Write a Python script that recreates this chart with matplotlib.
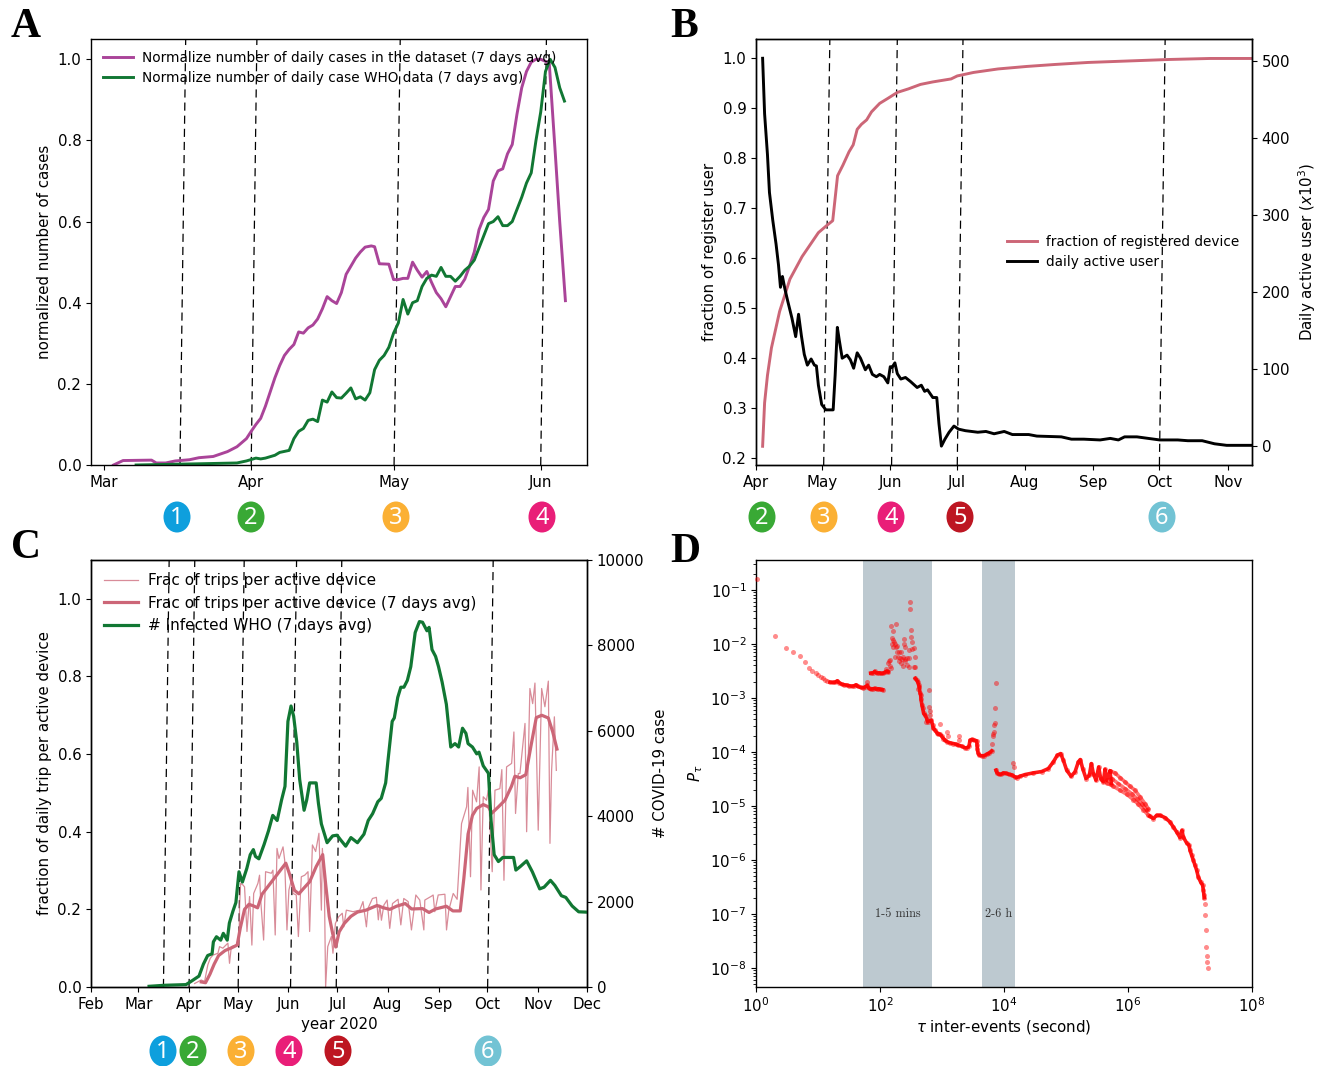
from __future__ import annotations

import matplotlib

matplotlib.use("Agg")
import matplotlib.pyplot as plt
import numpy as np
from matplotlib.patches import Ellipse
from matplotlib.ticker import FixedLocator, LogLocator, NullFormatter, NullLocator

W, H = 1321, 1066

ROSE = "#CC6677"
PURPLE = "#AA4499"
GREEN = "#117733"
BAND = "#BDC9D0"
BADGE_COLORS = {
	"1": "#0E9FDD",
	"2": "#39A935",
	"3": "#FBB034",
	"4": "#E91E78",
	"5": "#BD1622",
	"6": "#72C3D4",
}

# panel A, days since 1 March
A_MONTH_DAYS = [0, 31, 61, 92]
A_MONTHS = ["Mar", "Apr", "May", "Jun"]
A_DATASET_DAYS = [2, 4, 10, 11, 13, 15, 18, 20, 23, 24, 26, 28, 29, 30, 31, 32, 33, 34, 35, 36, 37, 38, 39, 40, 41, 42, 43, 44, 45, 46, 47, 48, 49, 50, 51, 52, 53, 54, 55, 56.3, 57, 58, 60, 61, 62, 63, 64, 65, 66, 67, 68, 69, 70, 71, 72, 73, 74, 75, 76, 77, 78, 79, 80, 81, 82, 83, 84, 85, 86, 87, 88, 89, 90, 91, 92, 93, 93.8, 95, 96, 97.2]
A_DATASET = [0.0, 0.011, 0.012, 0.005, 0.005, 0.01, 0.013, 0.018, 0.021, 0.025, 0.033, 0.045, 0.055, 0.065, 0.083, 0.1, 0.115, 0.145, 0.18, 0.215, 0.245, 0.27, 0.285, 0.297, 0.328, 0.325, 0.338, 0.345, 0.36, 0.385, 0.415, 0.405, 0.398, 0.425, 0.47, 0.49, 0.51, 0.525, 0.537, 0.54, 0.538, 0.496, 0.495, 0.457, 0.457, 0.46, 0.46, 0.5, 0.48, 0.463, 0.477, 0.45, 0.425, 0.41, 0.39, 0.415, 0.44, 0.44, 0.458, 0.49, 0.525, 0.58, 0.61, 0.63, 0.7, 0.725, 0.73, 0.767, 0.79, 0.865, 0.93, 0.97, 0.993, 1.0, 1.0, 0.995, 0.99, 0.78, 0.6, 0.405]
A_WHO_DAYS = [6.75, 20, 28, 30, 32, 33, 34, 36, 37, 39, 40, 41, 42, 43, 44, 45, 46, 47, 48, 49, 50, 51, 52, 53, 54, 55, 56, 57, 58, 59, 60, 61, 62, 63, 64, 65, 66, 67, 68, 69, 70, 71, 72, 73, 74, 75, 76, 77, 78, 79, 80, 81, 82, 83, 84, 85, 86, 87, 88, 89, 90, 91, 92, 93, 94, 95, 96, 97]
A_WHO = [0.0, 0.003, 0.005, 0.01, 0.017, 0.015, 0.017, 0.024, 0.031, 0.036, 0.065, 0.083, 0.09, 0.11, 0.113, 0.107, 0.16, 0.155, 0.18, 0.166, 0.165, 0.177, 0.19, 0.163, 0.168, 0.16, 0.178, 0.235, 0.258, 0.27, 0.29, 0.325, 0.35, 0.408, 0.372, 0.4, 0.405, 0.44, 0.46, 0.468, 0.465, 0.487, 0.465, 0.465, 0.453, 0.465, 0.48, 0.49, 0.505, 0.535, 0.565, 0.595, 0.6, 0.612, 0.59, 0.59, 0.6, 0.63, 0.66, 0.695, 0.72, 0.8, 0.87, 0.97, 1.0, 0.98, 0.93, 0.897]
A_EVENTS_BOTTOM = [16, 31, 61.1, 92]
A_EVENTS_TOP = [17.2, 32.2, 62.4, 93.2]

# panel B, days since 1 April
B_MONTH_DAYS = [0, 30, 61, 91, 122, 153, 183, 214]
B_MONTHS = ["Apr", "May", "Jun", "Jul", "Aug", "Sep", "Oct", "Nov"]
B_REG_DAYS = [3.0, 3.9, 5.2, 7.0, 10.7, 15.4, 20.9, 24.6, 28.3, 32, 34.8, 37, 39.4, 42.2, 44.1, 45.9, 47.8, 50.2, 52.4, 56.1, 59.8, 64.1, 69.1, 74.6, 80.2, 88.5, 91.3, 98.7, 109.8, 122.8, 135.7, 150.6, 169, 187.6, 206, 225]
B_REGISTERED = [0.223, 0.31, 0.365, 0.42, 0.493, 0.558, 0.603, 0.627, 0.651, 0.665, 0.675, 0.765, 0.786, 0.813, 0.827, 0.858, 0.868, 0.877, 0.893, 0.91, 0.92, 0.932, 0.939, 0.948, 0.953, 0.959, 0.965, 0.972, 0.979, 0.984, 0.988, 0.992, 0.995, 0.998, 1.0, 1.0]
B_ACTIVE_DAYS = [3.0, 3.9, 5.2, 6.1, 7.6, 9.1, 10.2, 11.1, 12, 13.1, 14.4, 16.3, 18, 19.3, 20.6, 21.9, 23.3, 25, 26.5, 27.4, 28.3, 29.8, 31.7, 35, 35.9, 36.9, 37.8, 39.1, 41.3, 42.8, 44.3, 45.9, 47.4, 49.6, 51.1, 52.8, 54.6, 56.1, 58, 59.8, 60.9, 61.7, 63, 64.1, 65.7, 67.8, 70, 73.1, 75, 76.5, 77.8, 80.2, 82, 83, 84.1, 85.7, 87.6, 89.8, 91.9, 95, 100.6, 104.3, 108, 112.6, 116.3, 123.7, 127.4, 138.5, 143.1, 148.7, 156.1, 160.7, 164.4, 167.2, 172.8, 183.1, 191.3, 195.9, 202.4, 208, 213.5, 225]
B_ACTIVE = [503, 431, 378, 329, 293, 262, 235, 206, 220, 204, 188, 166, 142, 171, 143, 119, 105, 113, 105, 104, 79, 54, 47, 47, 92, 154, 137, 114, 118, 112, 101, 121, 114, 99, 105, 93, 90, 93, 90, 82, 103, 102, 108, 94, 87, 89, 84, 76, 79, 71, 73, 63, 63, 29, 0, 9, 18, 26, 22, 20, 18, 19, 16, 19, 15, 15, 13, 12, 9, 9, 8, 10, 8, 12, 12, 8, 8, 7, 7, 3, 1, 1]
B_EVENTS_BOTTOM = [30.7, 61.5, 91.3, 183]
B_EVENTS_TOP = [33.5, 64.1, 93.9, 185.6]

# panel C, days since 1 February
C_MONTH_DAYS = [0, 29, 60, 90, 121, 151, 182, 213, 243, 274, 304]
C_MONTHS = ["Feb", "Mar", "Apr", "May", "Jun", "Jul", "Aug", "Sep", "Oct", "Nov", "Dec"]
C_RAW_DAYS = [63.5, 67.6, 69.6, 71.6, 73.1, 74.7, 77.8, 78.8, 80.8, 83.9, 84.9, 86, 89, 90.7, 91.1, 91.7, 93.1, 94.1, 95.6, 97.2, 98.6, 99.7, 102.3, 103.3, 104, 105.8, 107, 110.5, 111.5, 112.9, 114, 115.2, 117.7, 118.7, 120.1, 121.3, 122.8, 123.8, 125.8, 127.1, 128.9, 131, 133, 134, 135.7, 137.7, 139.7, 141.2, 141.8, 143, 143.8, 145.1, 147.3, 148.3, 149.8, 151.8, 154, 154.9, 156.5, 160.6, 164.7, 166.7, 168.8, 169.8, 172.5, 174.9, 176.1, 177, 178, 179.5, 181.5, 183.1, 184.8, 188.2, 189.9, 191.7, 194.4, 196.4, 199.1, 201.5, 204, 204.6, 208.7, 209.7, 210.7, 212.8, 216.9, 217.9, 219.3, 222, 224.4, 227.1, 230.2, 231, 232.6, 233.9, 236.3, 237.9, 239, 240.4, 242.4, 243.5, 245.9, 247.6, 250.6, 251.8, 253.1, 254.7, 257.8, 259.2, 260.2, 261.9, 262.9, 266, 267, 269, 270.7, 272.1, 274.1, 276.2, 278.2, 280.3, 281.3, 282.3, 284, 285.2]
C_RAW = [0.009, 0.018, 0.014, 0.057, 0.074, 0.082, 0.087, 0.104, 0.1, 0.113, 0.061, 0.104, 0.108, 0.108, 0.211, 0.267, 0.263, 0.258, 0.143, 0.233, 0.108, 0.241, 0.267, 0.288, 0.224, 0.121, 0.297, 0.293, 0.301, 0.134, 0.357, 0.331, 0.361, 0.327, 0.147, 0.25, 0.276, 0.241, 0.237, 0.13, 0.284, 0.288, 0.297, 0.143, 0.366, 0.349, 0.396, 0.198, 0.357, 0.276, 0.0, 0.104, 0.13, 0.087, 0.164, 0.181, 0.19, 0.155, 0.198, 0.194, 0.198, 0.22, 0.155, 0.203, 0.228, 0.231, 0.173, 0.211, 0.172, 0.211, 0.224, 0.151, 0.215, 0.226, 0.16, 0.228, 0.22, 0.147, 0.237, 0.224, 0.147, 0.224, 0.234, 0.237, 0.194, 0.237, 0.239, 0.147, 0.198, 0.241, 0.226, 0.421, 0.464, 0.514, 0.284, 0.507, 0.477, 0.567, 0.25, 0.49, 0.481, 0.507, 0.297, 0.507, 0.511, 0.56, 0.275, 0.567, 0.576, 0.657, 0.447, 0.55, 0.55, 0.679, 0.4, 0.769, 0.73, 0.783, 0.404, 0.769, 0.722, 0.788, 0.37, 0.558, 0.696, 0.558]
C_AVG_DAYS = [67.6, 70.2, 72.9, 75.5, 78.2, 82.2, 86.2, 89.6, 91.5, 94.1, 96.8, 99.5, 102.1, 104.8, 107.4, 111.4, 115.4, 119.4, 121.5, 124.7, 127.4, 130.1, 134, 138, 142, 143.9, 146, 148.1, 150, 152.1, 155.3, 159.3, 163.3, 168.6, 175.3, 179.3, 183.2, 187.2, 192.6, 196.5, 203.2, 207.2, 211.2, 217.8, 221.8, 226.3, 228.5, 231.1, 233.8, 236.4, 240.4, 243.6, 245.7, 249.7, 253.7, 257.7, 259.8, 263, 266.5, 269.7, 272.9, 276.3, 280.3, 283, 285.6]
C_AVG = [0.013, 0.011, 0.033, 0.059, 0.081, 0.094, 0.101, 0.108, 0.152, 0.2, 0.213, 0.209, 0.204, 0.239, 0.253, 0.275, 0.297, 0.319, 0.293, 0.249, 0.24, 0.253, 0.271, 0.31, 0.341, 0.262, 0.182, 0.138, 0.103, 0.142, 0.164, 0.182, 0.193, 0.198, 0.21, 0.204, 0.2, 0.208, 0.215, 0.201, 0.202, 0.192, 0.201, 0.208, 0.196, 0.196, 0.279, 0.394, 0.442, 0.46, 0.47, 0.464, 0.448, 0.464, 0.481, 0.517, 0.543, 0.539, 0.547, 0.622, 0.694, 0.7, 0.693, 0.657, 0.613]
C_WHO_DAYS = [35.6, 44.9, 58.2, 60.9, 66.2, 68.9, 71.5, 74.2, 75, 76.9, 79.5, 81.1, 83.5, 84.8, 87, 88.8, 90.7, 92.8, 95.5, 97.6, 99.5, 100.8, 102.9, 106.1, 108.8, 111.4, 114.1, 116.8, 118.9, 120.7, 122.6, 124.2, 126.1, 127.9, 130.6, 132.2, 134, 138, 139.4, 141.2, 144.7, 148.1, 150.8, 152.7, 156.1, 159.3, 163.3, 167.3, 169.9, 172.6, 175.8, 177.9, 180.6, 181.9, 184.6, 185.9, 188, 189.9, 191.8, 193.9, 196, 198.7, 201.3, 203.2, 205.9, 207.2, 209, 211.2, 213, 215.2, 217.8, 220.5, 223.1, 225.3, 227.7, 229.8, 231.1, 233.8, 236.4, 237.8, 240.4, 243.6, 245.2, 247.1, 249.7, 252.4, 259, 260.4, 263, 267, 270.5, 275, 277.7, 281.6, 284.3, 288.3, 291, 294.9, 298.9, 304]
C_WHO = [16, 40, 56, 120, 256, 536, 737, 777, 1057, 1177, 1097, 1257, 1097, 1497, 1777, 1977, 2698, 2458, 2778, 3098, 3218, 3058, 3002, 3339, 3659, 4019, 3899, 4379, 4699, 6221, 6581, 6341, 5740, 4860, 4139, 4379, 4780, 4780, 4299, 3819, 3379, 3539, 3555, 3459, 3298, 3499, 3379, 3579, 3899, 4059, 4339, 4419, 4780, 5260, 6221, 6301, 6781, 7021, 7021, 7181, 7502, 8302, 8558, 8542, 8342, 8422, 7902, 7742, 7502, 7141, 6621, 5620, 5700, 5620, 6060, 5940, 5700, 5620, 5460, 5500, 5180, 5004, 3899, 3098, 2938, 3034, 3034, 2738, 2818, 2954, 2698, 2298, 2338, 2498, 2378, 2138, 2098, 1897, 1761, 1753]
C_EVENTS_BOTTOM = [44.4, 60.1, 90.2, 122.3, 150.3, 243.1]
C_EVENTS_TOP = [47.9, 63.6, 93.9, 126, 153.7, 246.5]

# panel D, log10 of tau and of P, one pair of lists per stretch of the cloud
D_HEAD_X = [0.022, 0.306, 0.484, 0.602, 0.704, 0.785, 0.849, 0.909, 0.962, 1.005, 1.048, 1.086, 1.118, 1.151]
D_HEAD_Y = [-0.802, -1.847, -2.07, -2.144, -2.218, -2.33, -2.441, -2.503, -2.546, -2.577, -2.608, -2.639, -2.67, -2.688]
D_DECAY_X = [1.194, 1.237, 1.28, 1.312, 1.344, 1.382, 1.419, 1.462, 1.505, 1.548, 1.581, 1.613, 1.645, 1.688, 1.731, 1.763, 1.796, 1.817, 1.849, 1.882, 1.914, 1.946, 1.978, 2.011, 2.043]
D_DECAY_Y = [-2.707, -2.713, -2.707, -2.682, -2.719, -2.744, -2.756, -2.762, -2.775, -2.781, -2.775, -2.756, -2.787, -2.806, -2.812, -2.793, -2.769, -2.818, -2.837, -2.83, -2.824, -2.837, -2.83, -2.843, -2.849]
D_SHELF_X = [1.849, 1.892, 1.914, 1.946, 1.989, 2.022, 2.054, 2.081, 2.108, 2.134]
D_SHELF_Y = [-2.54, -2.534, -2.509, -2.54, -2.534, -2.546, -2.54, -2.521, -2.503, -2.515]
D_CLOUD_X = [1.785, 2.091, 2.124, 2.145, 2.167, 2.161, 2.177, 2.183, 2.21, 2.263, 2.194, 2.215, 2.188, 2.226, 2.247, 2.204, 2.253, 2.269, 2.28, 2.306, 2.333, 2.237, 2.296, 2.323, 2.349, 2.376, 2.403, 2.431, 2.462, 2.306, 2.333, 2.366, 2.403, 2.441, 2.473, 2.392, 2.387, 2.403, 2.484, 2.489, 2.495, 2.505, 2.511, 2.473, 2.511, 2.543, 2.559, 2.548, 2.57]
D_CLOUD_Y = [-2.701, -2.459, -2.361, -2.311, -2.299, -2.41, -2.453, -1.674, -1.761, -1.625, -1.884, -1.928, -2.002, -1.959, -2.002, -2.064, -2.064, -2.144, -2.039, -2.156, -2.144, -2.237, -2.249, -2.268, -2.286, -2.249, -2.28, -2.255, -2.268, -2.311, -2.361, -2.41, -2.311, -2.391, -2.422, -1.915, -2.002, -2.064, -1.216, -1.359, -1.748, -1.866, -1.959, -2.113, -2.101, -2.082, -2.237, -2.422, -2.435]
D_DROP_X = [2.57, 2.591, 2.608, 2.624, 2.634, 2.645, 2.656, 2.661, 2.677, 2.688, 2.704, 2.731, 2.753, 2.769, 2.828, 2.849, 2.86, 2.887, 2.914, 2.941, 2.968, 2.995, 3.022, 3.048, 3.086, 3.129, 3.183, 3.226, 3.263, 3.317, 3.371, 3.409, 3.435, 3.452, 3.484, 3.516, 3.559, 3.565, 3.57, 3.581, 3.602, 3.64, 3.683, 3.72, 3.763, 3.801]
D_DROP_Y = [-2.639, -2.67, -2.701, -2.762, -2.793, -2.905, -2.948, -3.028, -3.133, -3.195, -3.288, -3.325, -3.381, -3.443, -3.412, -3.505, -3.566, -3.597, -3.641, -3.672, -3.672, -3.709, -3.752, -3.783, -3.814, -3.832, -3.845, -3.857, -3.876, -3.894, -3.925, -3.919, -3.894, -3.783, -3.77, -3.783, -3.795, -3.876, -3.937, -4.018, -4.061, -4.073, -4.067, -4.043, -4.018, -3.981]
D_SPUR_X = [2.618, 2.79, 2.79, 2.801, 2.812, 2.742, 2.962, 3.086, 3.097, 3.269, 3.28, 3.812, 3.817, 3.828, 3.839, 3.844, 3.855, 3.86, 3.866, 4.151, 4.161]
D_SPUR_Y = [-2.843, -2.855, -3.177, -3.239, -3.325, -3.443, -3.48, -3.634, -3.709, -3.696, -3.783, -3.845, -3.709, -3.659, -3.622, -3.505, -3.461, -3.183, -2.732, -4.197, -4.277]
D_PLATEAU_X = [3.871, 3.887, 3.919, 3.952, 3.989, 4.032, 4.075, 4.124, 4.177, 4.204, 4.258, 4.339, 4.473, 4.608, 4.715, 4.796, 4.86, 4.914, 4.957, 5.011, 5.081, 5.145, 5.199, 5.231, 5.269, 5.323, 5.376, 5.409, 5.441, 5.484, 5.527, 5.559, 5.602, 5.629, 5.656, 5.71, 5.731]
D_PLATEAU_Y = [-4.339, -4.389, -4.414, -4.414, -4.389, -4.395, -4.414, -4.426, -4.463, -4.475, -4.451, -4.42, -4.389, -4.364, -4.309, -4.185, -4.061, -4.031, -4.154, -4.34, -4.451, -4.371, -4.185, -4.142, -4.309, -4.494, -4.433, -4.216, -4.402, -4.525, -4.278, -4.494, -4.556, -4.321, -4.525, -4.352, -4.587]
D_UPPER_X = [5.71, 5.79, 5.871, 5.952, 6.032, 6.113, 6.194, 6.274, 6.328]
D_UPPER_Y = [-4.352, -4.389, -4.476, -4.556, -4.637, -4.711, -4.834, -4.958, -5.051]
D_MIDDLE_X = [5.737, 5.844, 5.952, 6.059, 6.14, 6.22, 6.301]
D_MIDDLE_Y = [-4.494, -4.587, -4.68, -4.773, -4.865, -4.958, -5.082]
D_LOWER_X = [5.656, 5.763, 5.871, 5.978, 6.086, 6.167, 6.247, 6.328]
D_LOWER_Y = [-4.575, -4.637, -4.711, -4.785, -4.884, -4.971, -5.069, -5.175]
D_TAIL_X = [6.355, 6.409, 6.462, 6.516, 6.597, 6.677, 6.731, 6.785, 6.839, 6.871, 6.892, 6.946, 6.984, 7.0, 7.027, 7.054, 7.081, 7.108, 7.134, 7.172, 7.204, 7.215, 7.226, 7.231]
D_TAIL_Y = [-5.193, -5.236, -5.175, -5.175, -5.218, -5.298, -5.391, -5.484, -5.589, -5.453, -5.577, -5.688, -5.731, -5.824, -5.917, -6.01, -6.102, -6.195, -6.319, -6.412, -6.473, -6.566, -6.659, -6.702]
D_END_X = [7.242, 7.247, 7.258, 7.263, 7.274, 7.274, 7.285]
D_END_Y = [-6.826, -7.03, -7.296, -7.624, -7.791, -7.902, -8.001]
D_BANDS = [(53, 690, "1-5 mins"), (4400, 15000, "2-6 h")]


def px_axes(fig, left, right, top, bottom):
	return fig.add_axes([left / W, 1 - bottom / H, (right - left) / W, (bottom - top) / H])


def event_lines(ax, bottoms, tops, ymin, ymax):
	# the guide lines lean a little in the original
	for x0, x1 in zip(bottoms, tops):
		ax.plot([x0, x1], [ymin, ymax], color="black", lw=0.9, ls=(0, (6.5, 4)), zorder=1)


def px_legend(fig, ax, handles, x, y, size, spacing):
	ax.legend(
		handles=handles,
		loc="upper left",
		frameon=False,
		bbox_to_anchor=(x / W, 1 - y / H),
		bbox_transform=fig.transFigure,
		borderaxespad=0,
		borderpad=0,
		labelspacing=spacing,
		handlelength=2.2,
		handletextpad=0.66,
		fontsize=size,
	)


def badges(fig, labels, xs, y):
	for label, x in zip(labels, xs):
		fig.add_artist(Ellipse((x / W, 1 - y / H), 27 / W, 31 / H, transform=fig.transFigure, color=BADGE_COLORS[label], lw=0))
		fig.text(x / W, 1 - (y + 1) / H, label, color="white", family="Noto Sans", fontsize=17, ha="center", va="center")


def panel_a(fig):
	ax = px_axes(fig, 91, 587, 39, 465)
	event_lines(ax, A_EVENTS_BOTTOM, A_EVENTS_TOP, 0, 1.05)
	line1, = ax.plot(A_DATASET_DAYS, A_DATASET, color=PURPLE, lw=2.1, label="Normalize number of daily cases in the dataset (7 days avg)")
	line2, = ax.plot(A_WHO_DAYS, A_WHO, color=GREEN, lw=2.1, label="Normalize number of daily case WHO data (7 days avg)")
	ax.set_xlim(-2.75, 101.75)
	ax.set_ylim(0, 1.05)
	ax.set_xticks(A_MONTH_DAYS, A_MONTHS)
	ax.set_yticks([0, 0.2, 0.4, 0.6, 0.8, 1.0])
	ax.set_ylabel("normalized number of cases")
	px_legend(fig, ax, [line1, line2], 103, 51, 9.85, 0.45)


def panel_b(fig):
	ax = px_axes(fig, 756, 1252, 39, 465)
	event_lines(ax, B_EVENTS_BOTTOM, B_EVENTS_TOP, 0.1855, 1.039)
	line1, = ax.plot(B_REG_DAYS, B_REGISTERED, color=ROSE, lw=2.1, label="fraction of registered device")
	ax.set_xlim(0, 225)
	ax.set_ylim(0.1855, 1.039)
	ax.set_xticks(B_MONTH_DAYS, B_MONTHS)
	ax.set_yticks(np.arange(2, 11) / 10)
	ax.set_ylabel("fraction of register user")
	right = ax.twinx()
	line2, = right.plot(B_ACTIVE_DAYS, B_ACTIVE, color="black", lw=2.1, label="daily active user")
	right.set_ylim(-24.5, 528)
	right.set_yticks([0, 100, 200, 300, 400, 500])
	right.set_ylabel("Daily active user ($x10^3$)")
	px_legend(fig, right, [line1, line2], 1007, 235, 9.8, 0.45)


def panel_c(fig):
	ax = px_axes(fig, 91, 587, 560, 987)
	event_lines(ax, C_EVENTS_BOTTOM, C_EVENTS_TOP, 0, 1.1)
	line1, = ax.plot(C_RAW_DAYS, C_RAW, color=ROSE, lw=0.9, alpha=0.75, label="Frac of trips per active device")
	line2, = ax.plot(C_AVG_DAYS, C_AVG, color=ROSE, lw=2.3, label="Frac of trips per active device (7 days avg)")
	ax.set_xlim(0, 304)
	ax.set_ylim(0, 1.1)
	ax.set_xticks(C_MONTH_DAYS, C_MONTHS)
	ax.set_yticks([0, 0.2, 0.4, 0.6, 0.8, 1.0])
	ax.set_xlabel("year 2020")
	ax.set_ylabel("fraction of daily trip per active device")
	right = ax.twinx()
	line3, = right.plot(C_WHO_DAYS, C_WHO, color=GREEN, lw=2.3, label="# Infected WHO (7 days avg)")
	right.set_ylim(0, 10000)
	right.set_yticks(range(0, 10001, 2000))
	right.set_ylabel("# COVID-19 case", labelpad=6)
	px_legend(fig, right, [line1, line2, line3], 104, 573, 11.0, 0.5)


def panel_d(fig):
	ax = px_axes(fig, 756, 1252, 560, 987)
	for low, high, label in D_BANDS:
		ax.axvspan(low, high, color=BAND, lw=0, zorder=0)
		ax.text(np.sqrt(low * high), 1e-7, label, family="cmr10", fontsize=8.8, color="#333333", ha="center", va="center")
	# long runs of points merge into a solid band in the original
	runs = [
		(D_DECAY_X, D_DECAY_Y),
		(D_SHELF_X, D_SHELF_Y),
		(D_DROP_X, D_DROP_Y),
		(D_PLATEAU_X, D_PLATEAU_Y),
		(D_TAIL_X, D_TAIL_Y),
	]
	for xs, ys in runs:
		ax.plot(10.0 ** np.array(xs), 10.0 ** np.array(ys), color="#FF0000", lw=2.6, alpha=0.9, solid_joinstyle="round", zorder=2)
	for xs, ys in [(D_UPPER_X, D_UPPER_Y), (D_MIDDLE_X, D_MIDDLE_Y), (D_LOWER_X, D_LOWER_Y)]:
		ax.plot(10.0 ** np.array(xs), 10.0 ** np.array(ys), color="#FF0000", lw=2.6, alpha=0.55, zorder=2)
	all_x = D_HEAD_X + D_DECAY_X + D_SHELF_X + D_CLOUD_X + D_DROP_X + D_SPUR_X + D_PLATEAU_X + D_UPPER_X + D_MIDDLE_X + D_LOWER_X + D_TAIL_X + D_END_X
	all_y = D_HEAD_Y + D_DECAY_Y + D_SHELF_Y + D_CLOUD_Y + D_DROP_Y + D_SPUR_Y + D_PLATEAU_Y + D_UPPER_Y + D_MIDDLE_Y + D_LOWER_Y + D_TAIL_Y + D_END_Y
	ax.scatter(10.0 ** np.array(all_x), 10.0 ** np.array(all_y), s=13, color="#FF0000", alpha=0.45, lw=0, zorder=3, clip_on=False)
	ax.set_xscale("log")
	ax.set_yscale("log")
	ax.set_xlim(1, 1e8)
	ax.set_ylim(4.4e-9, 0.36)
	ax.xaxis.set_major_locator(FixedLocator([1, 1e2, 1e4, 1e6, 1e8]))
	ax.xaxis.set_minor_locator(NullLocator())
	ax.yaxis.set_major_locator(FixedLocator([10.0 ** e for e in range(-8, 0)]))
	ax.yaxis.set_minor_locator(LogLocator(base=10, subs=np.arange(2, 10) * 0.1, numticks=20))
	ax.yaxis.set_minor_formatter(NullFormatter())
	ax.set_xlabel(r"$\tau$ inter-events (second)", labelpad=1.5)
	ax.set_ylabel(r"$P_{\tau}$")


def main() -> None:
	plt.rcParams.update({"font.size": 10.8, "axes.linewidth": 1.0, "mathtext.fontset": "dejavusans"})
	fig = plt.figure(figsize=(W / 100, H / 100), dpi=100)
	panel_a(fig)
	panel_b(fig)
	panel_c(fig)
	panel_d(fig)
	badges(fig, "1234", [177, 251, 396, 542], 517)
	badges(fig, "23456", [762, 824, 891, 960, 1162], 517)
	badges(fig, "123456", [163, 193, 241, 289, 338, 488], 1051)
	for letter, x, y in [("A", 11, 37), ("B", 670, 37), ("C", 11, 558), ("D", 670, 562)]:
		fig.text(x / W, 1 - y / H, letter, family="Liberation Serif", weight="bold", fontsize=30, va="baseline")
	fig.savefig("out.png", dpi=100)
	plt.close(fig)


if __name__ == "__main__":
	main()
